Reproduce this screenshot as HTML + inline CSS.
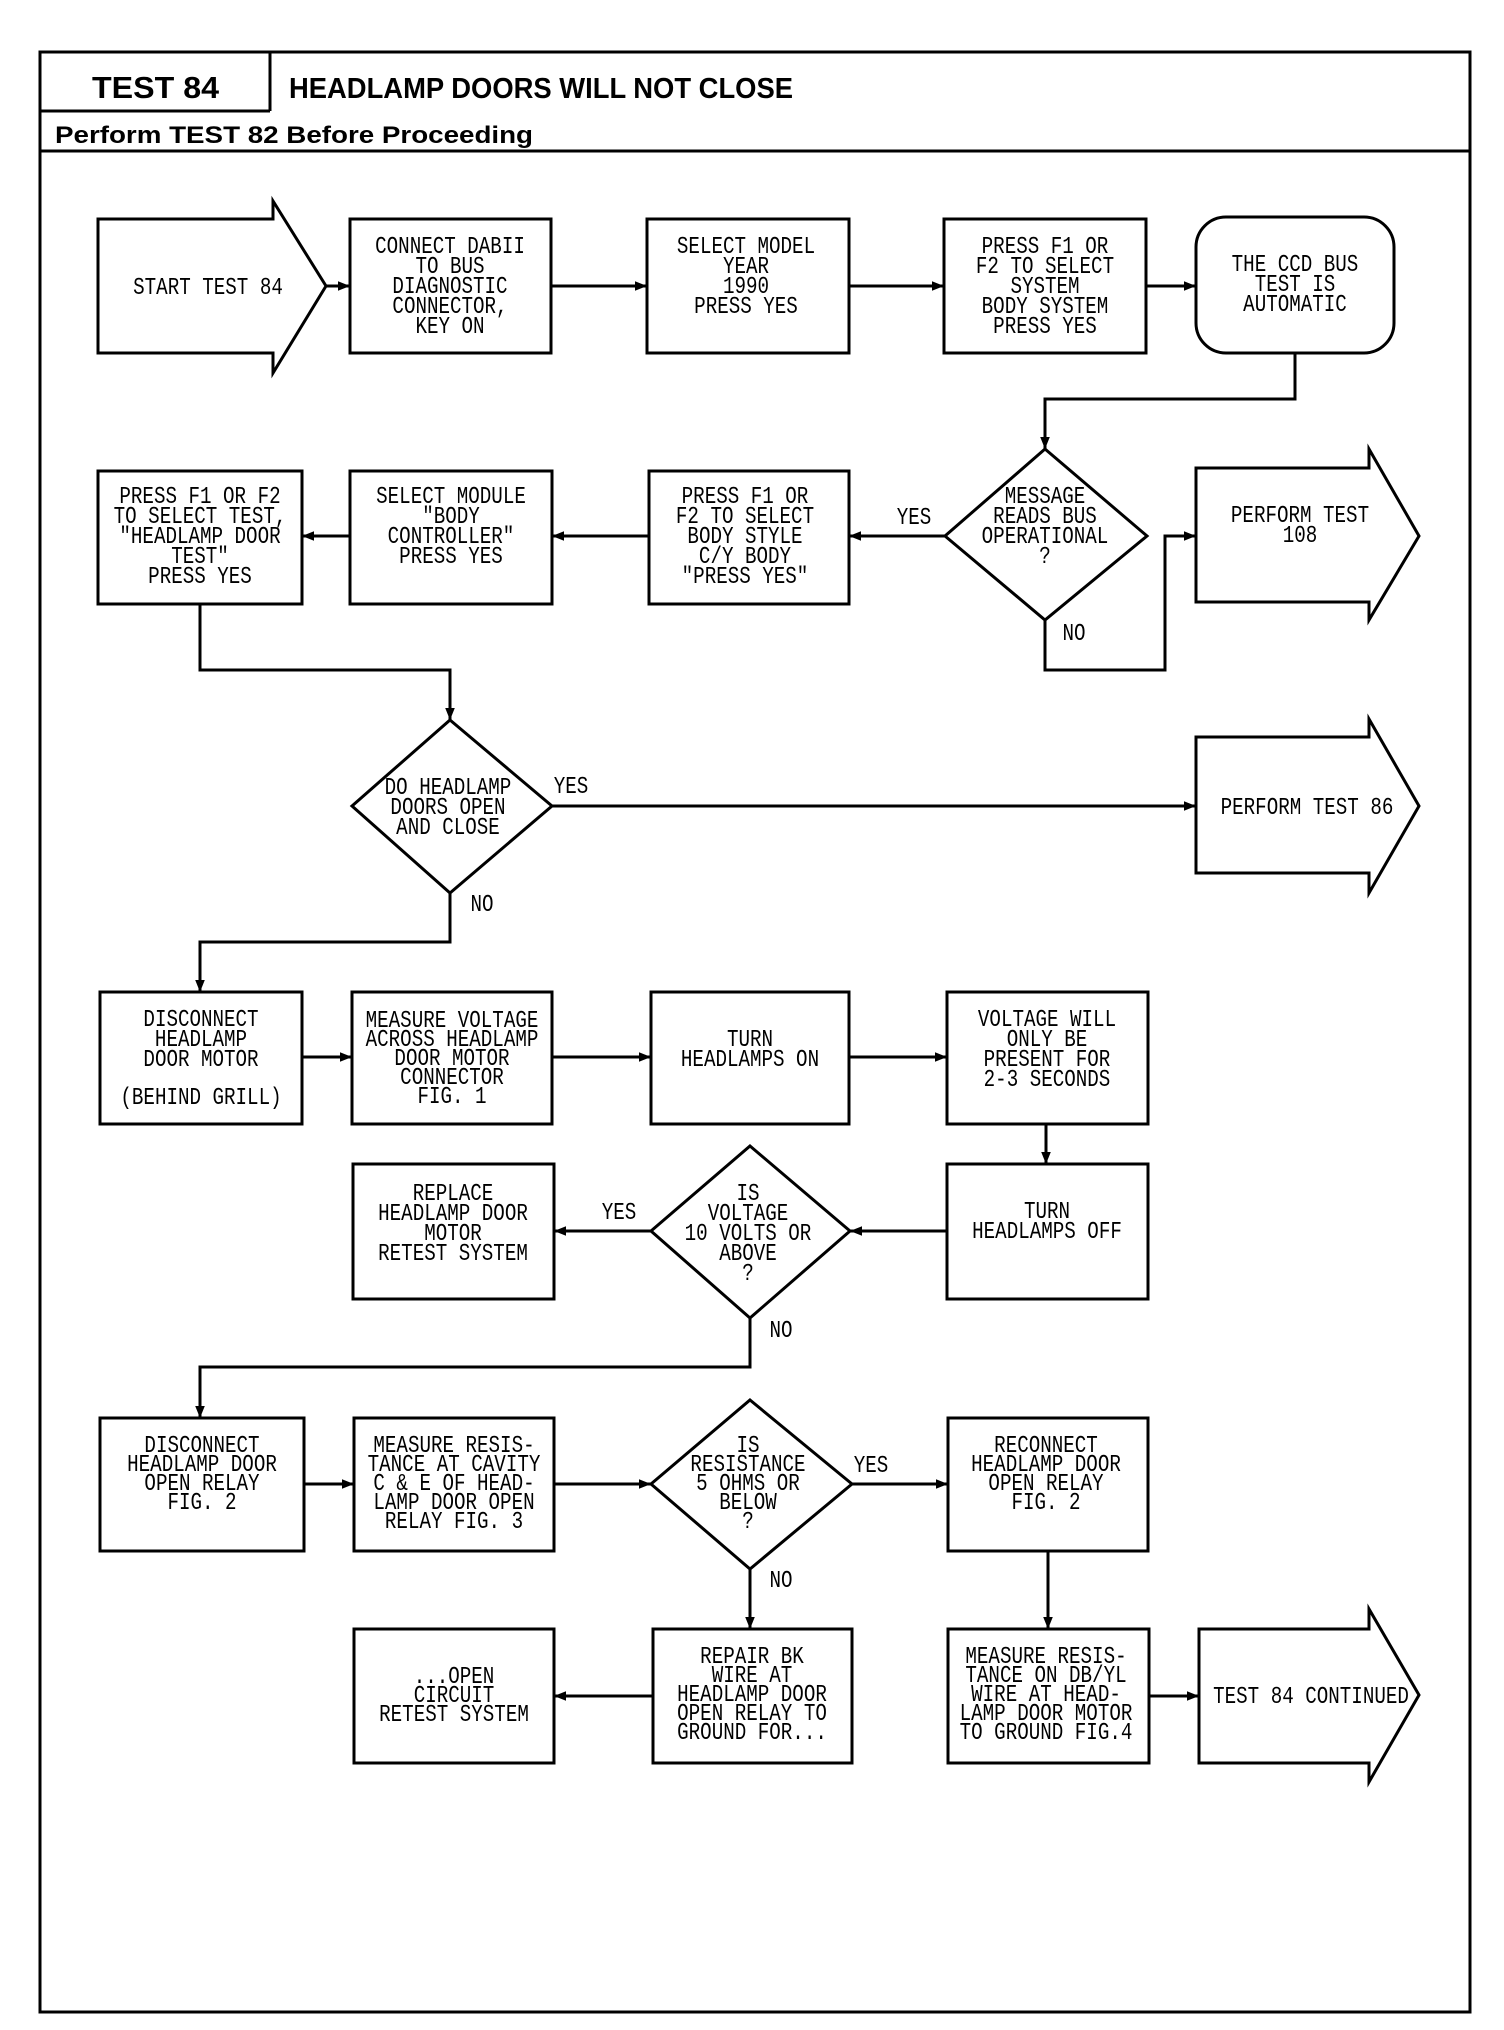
<!DOCTYPE html>
<html><head><meta charset="utf-8"><style>
html,body{margin:0;padding:0;background:#fff;}
svg{display:block;}
.t{font-family:"Liberation Mono",monospace;font-size:24px;fill:#000;text-anchor:middle;}
.h{font-family:"Liberation Sans",sans-serif;font-weight:bold;fill:#000;}
</style></head><body>
<svg width="1504" height="2030" viewBox="0 0 1504 2030" xmlns="http://www.w3.org/2000/svg">
<defs><marker id="a" viewBox="0 0 10 10" refX="10" refY="5" markerWidth="5" markerHeight="5" orient="auto" markerUnits="userSpaceOnUse"><path d="M0,0 L10,5 L0,10 z" fill="#000"/></marker>
<marker id="b" viewBox="0 0 10 10" refX="10" refY="5" markerWidth="12" markerHeight="12" orient="auto" markerUnits="userSpaceOnUse"><path d="M0,1 L10,5 L0,9 z" fill="#000"/></marker></defs>
<g fill="none" stroke="#000" stroke-width="3">
<rect x="40" y="52" width="1430" height="1960"/>
<line x1="40" y1="111" x2="270" y2="111"/>
<line x1="270" y1="52" x2="270" y2="111"/>
<line x1="40" y1="151" x2="1470" y2="151"/>
<!-- row1 -->
<path d="M98,219 H273 V201 L326,286 L273,373 V353 H98 Z"/>
<rect x="350" y="219" width="201" height="134"/>
<rect x="647" y="219" width="202" height="134"/>
<rect x="944" y="219" width="202" height="134"/>
<rect x="1196" y="217" width="198" height="136" rx="30"/>
<!-- row2 -->
<rect x="98" y="471" width="204" height="133"/>
<rect x="350" y="471" width="202" height="133"/>
<rect x="649" y="471" width="200" height="133"/>
<path d="M1045,449 L1147,536 L1045,620 L945,536 Z"/>
<path d="M1196,468 H1369 V449 L1419,536 L1369,620 V602 H1196 Z"/>
<!-- row3 -->
<path d="M450,720 L552,806 L450,893 L352,806 Z"/>
<path d="M1196,737 H1369 V719 L1419,806 L1369,893 V873 H1196 Z"/>
<rect x="100" y="992" width="202" height="132"/>
<rect x="352" y="992" width="200" height="132"/>
<rect x="651" y="992" width="198" height="132"/>
<rect x="947" y="992" width="201" height="132"/>
<!-- row4 -->
<rect x="353" y="1164" width="201" height="135"/>
<path d="M750,1146 L850,1231 L750,1318 L651,1231 Z"/>
<rect x="947" y="1164" width="201" height="135"/>
<!-- row5 -->
<rect x="100" y="1418" width="204" height="133"/>
<rect x="354" y="1418" width="200" height="133"/>
<path d="M750,1400 L852,1484 L750,1569 L651,1484 Z"/>
<rect x="948" y="1418" width="200" height="133"/>
<!-- row6 -->
<rect x="354" y="1629" width="200" height="134"/>
<rect x="653" y="1629" width="199" height="134"/>
<rect x="948" y="1629" width="201" height="134"/>
<path d="M1199,1629 H1369 V1609 L1419,1695 L1369,1782 V1763 H1199 Z"/>
</g>
<g fill="none" stroke="#000" stroke-width="3" marker-end="url(#b)">
<line x1="326" y1="286" x2="350" y2="286"/>
<line x1="551" y1="286" x2="647" y2="286"/>
<line x1="849" y1="286" x2="944" y2="286"/>
<line x1="1146" y1="286" x2="1196" y2="286"/>
<polyline points="1295,353 1295,399 1045,399 1045,449"/>
<line x1="945" y1="536" x2="849" y2="536"/>
<line x1="649" y1="536" x2="552" y2="536"/>
<line x1="350" y1="536" x2="302" y2="536"/>
<polyline points="1045,620 1045,670 1165,670 1165,536 1196,536"/>
<polyline points="200,604 200,670 450,670 450,720"/>
<line x1="552" y1="806" x2="1196" y2="806"/>
<polyline points="450,893 450,942 200,942 200,992"/>
<line x1="302" y1="1057" x2="352" y2="1057"/>
<line x1="552" y1="1057" x2="651" y2="1057"/>
<line x1="849" y1="1057" x2="947" y2="1057"/>
<line x1="1046" y1="1124" x2="1046" y2="1164"/>
<line x1="947" y1="1231" x2="850" y2="1231"/>
<line x1="651" y1="1231" x2="554" y2="1231"/>
<polyline points="750,1318 750,1367 200,1367 200,1418"/>
<line x1="304" y1="1484" x2="354" y2="1484"/>
<line x1="554" y1="1484" x2="651" y2="1484"/>
<line x1="852" y1="1484" x2="948" y2="1484"/>
<line x1="750" y1="1569" x2="750" y2="1629"/>
<line x1="1048" y1="1551" x2="1048" y2="1629"/>
<line x1="653" y1="1696" x2="554" y2="1696"/>
<line x1="1149" y1="1696" x2="1199" y2="1696"/>
</g>
<text class="h" x="92" y="98" font-size="31" textLength="127" lengthAdjust="spacingAndGlyphs">TEST 84</text>
<text class="h" x="289" y="98" font-size="29" textLength="504" lengthAdjust="spacingAndGlyphs">HEADLAMP DOORS WILL NOT CLOSE</text>
<text class="h" x="55" y="143" font-size="24" textLength="478" lengthAdjust="spacingAndGlyphs">Perform TEST 82 Before Proceeding</text>

<g class="t">
<g transform="translate(208,294) scale(.8,1)"><text x="0" y="0">START TEST 84</text></g>
<g transform="translate(450,253) scale(.8,1)"><text x="0" y="0">CONNECT DABII</text><text x="0" y="20">TO BUS</text><text x="0" y="40">DIAGNOSTIC</text><text x="0" y="60">CONNECTOR,</text><text x="0" y="80">KEY ON</text></g>
<g transform="translate(746,253) scale(.8,1)"><text x="0" y="0">SELECT MODEL</text><text x="0" y="20">YEAR</text><text x="0" y="40">1990</text><text x="0" y="60">PRESS YES</text></g>
<g transform="translate(1045,253) scale(.8,1)"><text x="0" y="0">PRESS F1 OR</text><text x="0" y="20">F2 TO SELECT</text><text x="0" y="40">SYSTEM</text><text x="0" y="60">BODY SYSTEM</text><text x="0" y="80">PRESS YES</text></g>
<g transform="translate(1295,271) scale(.8,1)"><text x="0" y="0">THE CCD BUS</text><text x="0" y="20">TEST IS</text><text x="0" y="40">AUTOMATIC</text></g>

<g transform="translate(200,503) scale(.8,1)"><text x="0" y="0">PRESS F1 OR F2</text><text x="0" y="20">TO SELECT TEST,</text><text x="0" y="40">"HEADLAMP DOOR</text><text x="0" y="60">TEST"</text><text x="0" y="80">PRESS YES</text></g>
<g transform="translate(451,503) scale(.8,1)"><text x="0" y="0">SELECT MODULE</text><text x="0" y="20">"BODY</text><text x="0" y="40">CONTROLLER"</text><text x="0" y="60">PRESS YES</text></g>
<g transform="translate(745,503) scale(.8,1)"><text x="0" y="0">PRESS F1 OR</text><text x="0" y="20">F2 TO SELECT</text><text x="0" y="40">BODY STYLE</text><text x="0" y="60">C/Y BODY</text><text x="0" y="80">"PRESS YES"</text></g>
<g transform="translate(1045,503) scale(.8,1)"><text x="0" y="0">MESSAGE</text><text x="0" y="20">READS BUS</text><text x="0" y="40">OPERATIONAL</text><text x="0" y="60">?</text></g>
<g transform="translate(1300,522) scale(.8,1)"><text x="0" y="0">PERFORM TEST</text><text x="0" y="20">108</text></g>
<g transform="translate(914,524) scale(.8,1)"><text x="0" y="0">YES</text></g>
<g transform="translate(1074,640) scale(.8,1)"><text x="0" y="0">NO</text></g>

<g transform="translate(448,794) scale(.8,1)"><text x="0" y="0">DO HEADLAMP</text><text x="0" y="20">DOORS OPEN</text><text x="0" y="40">AND CLOSE</text></g>
<g transform="translate(571,793) scale(.8,1)"><text x="0" y="0">YES</text></g>
<g transform="translate(482,911) scale(.8,1)"><text x="0" y="0">NO</text></g>
<g transform="translate(1307,814) scale(.8,1)"><text x="0" y="0">PERFORM TEST 86</text></g>

<g transform="translate(201,1026) scale(.8,1)"><text x="0" y="0">DISCONNECT</text><text x="0" y="20">HEADLAMP</text><text x="0" y="40">DOOR MOTOR</text><text x="0" y="78">(BEHIND GRILL)</text></g>
<g transform="translate(452,1027) scale(.8,1)"><text x="0" y="0">MEASURE VOLTAGE</text><text x="0" y="19">ACROSS HEADLAMP</text><text x="0" y="38">DOOR MOTOR</text><text x="0" y="57">CONNECTOR</text><text x="0" y="76">FIG. 1</text></g>
<g transform="translate(750,1046) scale(.8,1)"><text x="0" y="0">TURN</text><text x="0" y="20">HEADLAMPS ON</text></g>
<g transform="translate(1047,1026) scale(.8,1)"><text x="0" y="0">VOLTAGE WILL</text><text x="0" y="20">ONLY BE</text><text x="0" y="40">PRESENT FOR</text><text x="0" y="60">2-3 SECONDS</text></g>

<g transform="translate(453,1200) scale(.8,1)"><text x="0" y="0">REPLACE</text><text x="0" y="20">HEADLAMP DOOR</text><text x="0" y="40">MOTOR</text><text x="0" y="60">RETEST SYSTEM</text></g>
<g transform="translate(748,1200) scale(.8,1)"><text x="0" y="0">IS</text><text x="0" y="20">VOLTAGE</text><text x="0" y="40">10 VOLTS OR</text><text x="0" y="60">ABOVE</text><text x="0" y="80">?</text></g>
<g transform="translate(619,1219) scale(.8,1)"><text x="0" y="0">YES</text></g>
<g transform="translate(781,1337) scale(.8,1)"><text x="0" y="0">NO</text></g>
<g transform="translate(1047,1218) scale(.8,1)"><text x="0" y="0">TURN</text><text x="0" y="20">HEADLAMPS OFF</text></g>

<g transform="translate(202,1452) scale(.8,1)"><text x="0" y="0">DISCONNECT</text><text x="0" y="19">HEADLAMP DOOR</text><text x="0" y="38">OPEN RELAY</text><text x="0" y="57">FIG. 2</text></g>
<g transform="translate(454,1452) scale(.8,1)"><text x="0" y="0">MEASURE RESIS-</text><text x="0" y="19">TANCE AT CAVITY</text><text x="0" y="38">C &amp; E OF HEAD-</text><text x="0" y="57">LAMP DOOR OPEN</text><text x="0" y="76">RELAY FIG. 3</text></g>
<g transform="translate(748,1452) scale(.8,1)"><text x="0" y="0">IS</text><text x="0" y="19">RESISTANCE</text><text x="0" y="38">5 OHMS OR</text><text x="0" y="57">BELOW</text><text x="0" y="76">?</text></g>
<g transform="translate(871,1472) scale(.8,1)"><text x="0" y="0">YES</text></g>
<g transform="translate(781,1587) scale(.8,1)"><text x="0" y="0">NO</text></g>
<g transform="translate(1046,1452) scale(.8,1)"><text x="0" y="0">RECONNECT</text><text x="0" y="19">HEADLAMP DOOR</text><text x="0" y="38">OPEN RELAY</text><text x="0" y="57">FIG. 2</text></g>

<g transform="translate(454,1683) scale(.8,1)"><text x="0" y="0">...OPEN</text><text x="0" y="19">CIRCUIT</text><text x="0" y="38">RETEST SYSTEM</text></g>
<g transform="translate(752,1663) scale(.8,1)"><text x="0" y="0">REPAIR BK</text><text x="0" y="19">WIRE AT</text><text x="0" y="38">HEADLAMP DOOR</text><text x="0" y="57">OPEN RELAY TO</text><text x="0" y="76">GROUND FOR...</text></g>
<g transform="translate(1046,1663) scale(.8,1)"><text x="0" y="0">MEASURE RESIS-</text><text x="0" y="19">TANCE ON DB/YL</text><text x="0" y="38">WIRE AT HEAD-</text><text x="0" y="57">LAMP DOOR MOTOR</text><text x="0" y="76">TO GROUND FIG.4</text></g>
<g transform="translate(1311,1703) scale(.8,1)"><text x="0" y="0">TEST 84 CONTINUED</text></g>
</g>
</svg>
</body></html>
